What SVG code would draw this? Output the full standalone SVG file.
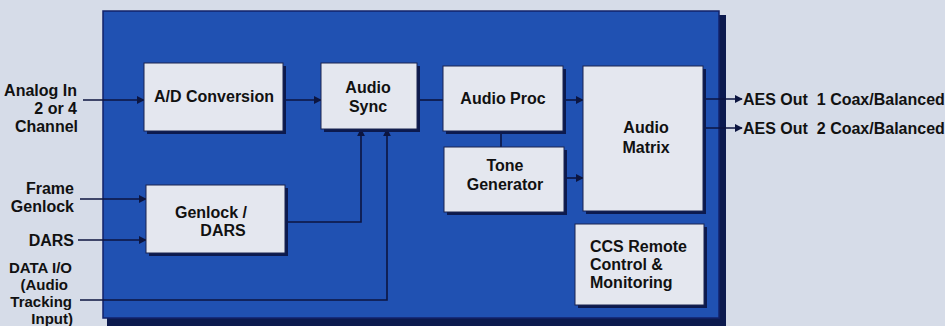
<svg xmlns="http://www.w3.org/2000/svg" width="945" height="326" viewBox="0 0 945 326">
<style>
.t{font-family:"Liberation Sans",Arial,sans-serif;font-weight:bold;font-size:16px;fill:#111;white-space:pre}
.s{font-size:15px}
.m{text-anchor:middle}
.r{text-anchor:end}
.box{fill:#e4e7ef;stroke:#1a2550;stroke-width:1}
.sh{fill:#0c1a4e}
.ln{fill:none;stroke:#0c1540;stroke-width:1.6}
</style>
<defs>
<marker id="ah" viewBox="0 0 10 10" refX="9" refY="5" markerWidth="5" markerHeight="5" orient="auto" markerUnits="strokeWidth">
<path d="M0,0 L10,5 L0,10 z" fill="#0c1540"/>
</marker>
</defs>
<rect width="945" height="326" fill="#d6dce8"/>
<g id="panel">
<rect x="107" y="15" width="619" height="311" fill="#0c1a4e"/>
<rect x="103" y="11" width="616" height="307" fill="#2051b2" stroke="#12226a" stroke-width="1.5"/>
</g>
<g id="connectors">
<line class="ln" x1="83" y1="100" x2="144" y2="100" marker-end="url(#ah)"/>
<line class="ln" x1="283" y1="100" x2="321" y2="100" marker-end="url(#ah)"/>
<line class="ln" x1="417" y1="100" x2="443" y2="100"/>
<line class="ln" x1="563" y1="100" x2="583" y2="100" marker-end="url(#ah)"/>
<line class="ln" x1="564" y1="178" x2="583" y2="178" marker-end="url(#ah)"/>
<line class="ln" x1="501" y1="131" x2="501" y2="147"/>
<line class="ln" x1="80" y1="199" x2="146" y2="199" marker-end="url(#ah)"/>
<line class="ln" x1="78" y1="240" x2="146" y2="240" marker-end="url(#ah)"/>
<polyline class="ln" points="285,222 361,222 361,129" marker-end="url(#ah)"/>
<polyline class="ln" points="80,300 387,300 387,129" marker-end="url(#ah)"/>
<line class="ln" x1="703" y1="99" x2="742" y2="99" marker-end="url(#ah)"/>
<line class="ln" x1="703" y1="128" x2="742" y2="128" marker-end="url(#ah)"/>
</g>
<g id="ad">
<rect class="sh" x="147" y="66" width="139" height="68"/>
<rect class="box" x="144" y="63" width="139" height="68"/>
<text class="t m" x="214" y="102">A/D Conversion</text>
</g>
<g id="genlock">
<rect class="sh" x="149" y="188" width="139" height="68"/>
<rect class="box" x="146" y="185" width="139" height="68"/>
<text class="t m" x="211" y="218">Genlock /</text>
<text class="t m" x="223" y="236">DARS</text>
</g>
<g id="sync">
<rect class="sh" x="324" y="66" width="96" height="66"/>
<rect class="box" x="321" y="63" width="96" height="66"/>
<text class="t m" x="368" y="93">Audio</text>
<text class="t m" x="368" y="112">Sync</text>
</g>
<g id="proc">
<rect class="sh" x="446" y="69" width="120" height="65"/>
<rect class="box" x="443" y="66" width="120" height="65"/>
<text class="t m" x="503" y="104">Audio Proc</text>
</g>
<g id="tone">
<rect class="sh" x="447" y="150" width="120" height="65"/>
<rect class="box" x="444" y="147" width="120" height="65"/>
<text class="t m" x="505" y="171">Tone</text>
<text class="t m" x="505" y="190">Generator</text>
</g>
<g id="matrix">
<rect class="sh" x="586" y="69" width="120" height="145"/>
<rect class="box" x="583" y="66" width="120" height="145"/>
<text class="t m" x="646" y="133">Audio</text>
<text class="t m" x="646" y="153">Matrix</text>
</g>
<g id="ccs">
<rect class="sh" x="578" y="227" width="129" height="81"/>
<rect class="box" x="575" y="224" width="129" height="81"/>
<text class="t" x="590" y="252">CCS Remote</text>
<text class="t" x="590" y="270">Control &amp;</text>
<text class="t" x="590" y="288">Monitoring</text>
</g>
<g id="labels">
<text class="t r" x="77" y="96">Analog In</text>
<text class="t r" x="77" y="114">2 or 4</text>
<text class="t r" x="78" y="132">Channel</text>
<text class="t r" x="74" y="194">Frame</text>
<text class="t r" x="74" y="212">Genlock</text>
<text class="t r" x="74" y="246">DARS</text>
<text class="t s r" x="72" y="273">DATA I/O</text>
<text class="t s r" x="68" y="290">(Audio</text>
<text class="t s r" x="72" y="307">Tracking</text>
<text class="t s r" x="73" y="324">Input)</text>
<text class="t" x="743" y="105">AES Out  1 Coax/Balanced</text>
<text class="t" x="743" y="134">AES Out  2 Coax/Balanced</text>
</g>
</svg>
